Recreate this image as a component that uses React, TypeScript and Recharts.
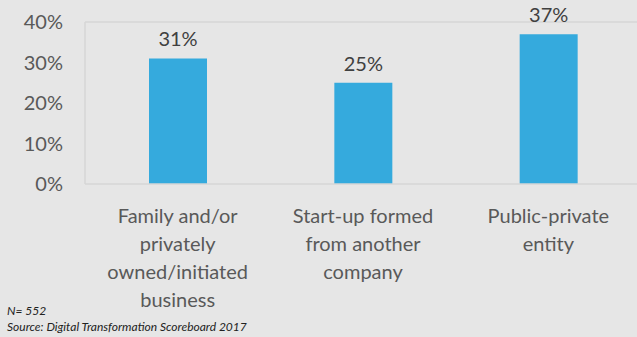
import { Bar, BarChart, LabelList, ReferenceLine, XAxis, YAxis } from "recharts";

const categories = [
  "Family and/or privately owned/initiated business",
  "Start-up formed from another company",
  "Public-private entity",
];
const categoryLines = [
  ["Family and/or", "privately", "owned/initiated", "business"],
  ["Start-up formed", "from another", "company"],
  ["Public-private", "entity"],
];
const shares = [31, 25, 37];
const yTicks = [0, 10, 20, 30, 40];
const notes = ["N= 552", "Source: Digital Transformation Scoreboard 2017"];

const data = categories.map((name, i) => ({ name, share: shares[i] }));

const FONT = "Lato, 'Open Sans', sans-serif";

function CategoryTick(props: any) {
  const { x, y, index } = props;
  const lines = categoryLines[index] || [];
  return (
    <text x={x} y={y + 37} textAnchor="middle" fill="#595959" fontSize={20} fontFamily={FONT}>
      {lines.map((line, i) => (
        <tspan key={i} x={x} dy={i === 0 ? 0 : 28}>
          {line}
        </tspan>
      ))}
    </text>
  );
}

export default function App() {
  return (
    <div
      style={{
        position: "fixed",
        left: 0,
        top: 0,
        width: 637,
        height: 337,
        overflow: "hidden",
        background: "#e6e6e6",
      }}
    >
      <BarChart
        width={641}
        height={337}
        data={data}
        margin={{ top: 22, right: 0, left: 0, bottom: 33 }}
      >
        <XAxis
          dataKey="name"
          interval={0}
          tickLine={false}
          tickSize={0}
          axisLine={{ stroke: "#d6d6d6", strokeWidth: 1.5 }}
          tick={<CategoryTick />}
          height={120}
        />
        <YAxis
          domain={[0, 40]}
          ticks={yTicks}
          width={85}
          tickLine={false}
          tickSize={0}
          tickMargin={22}
          axisLine={{ stroke: "#d6d6d6", strokeWidth: 1.5 }}
          tickFormatter={(v) => `${v}%`}
          tick={{ fill: "#595959", fontSize: 20, fontFamily: FONT }}
        />
        <ReferenceLine y={40} stroke="#d6d6d6" strokeWidth={1.5} />
        <Bar dataKey="share" fill="#35aadd" barSize={58} isAnimationActive={false}>
          <LabelList
            dataKey="share"
            position="top"
            offset={12}
            formatter={(v: any) => `${v}%`}
            fill="#404040"
            fontSize={20}
            fontFamily={FONT}
          />
        </Bar>
      </BarChart>
      {notes.map((n, i) => (
        <div
          key={i}
          style={{
            position: "absolute",
            left: 7,
            top: 304 + i * 16,
            fontSize: 12,
            fontStyle: "italic",
            fontFamily: FONT,
            color: "#222",
            whiteSpace: "nowrap",
            lineHeight: "14px",
          }}
        >
          {n}
        </div>
      ))}
    </div>
  );
}
